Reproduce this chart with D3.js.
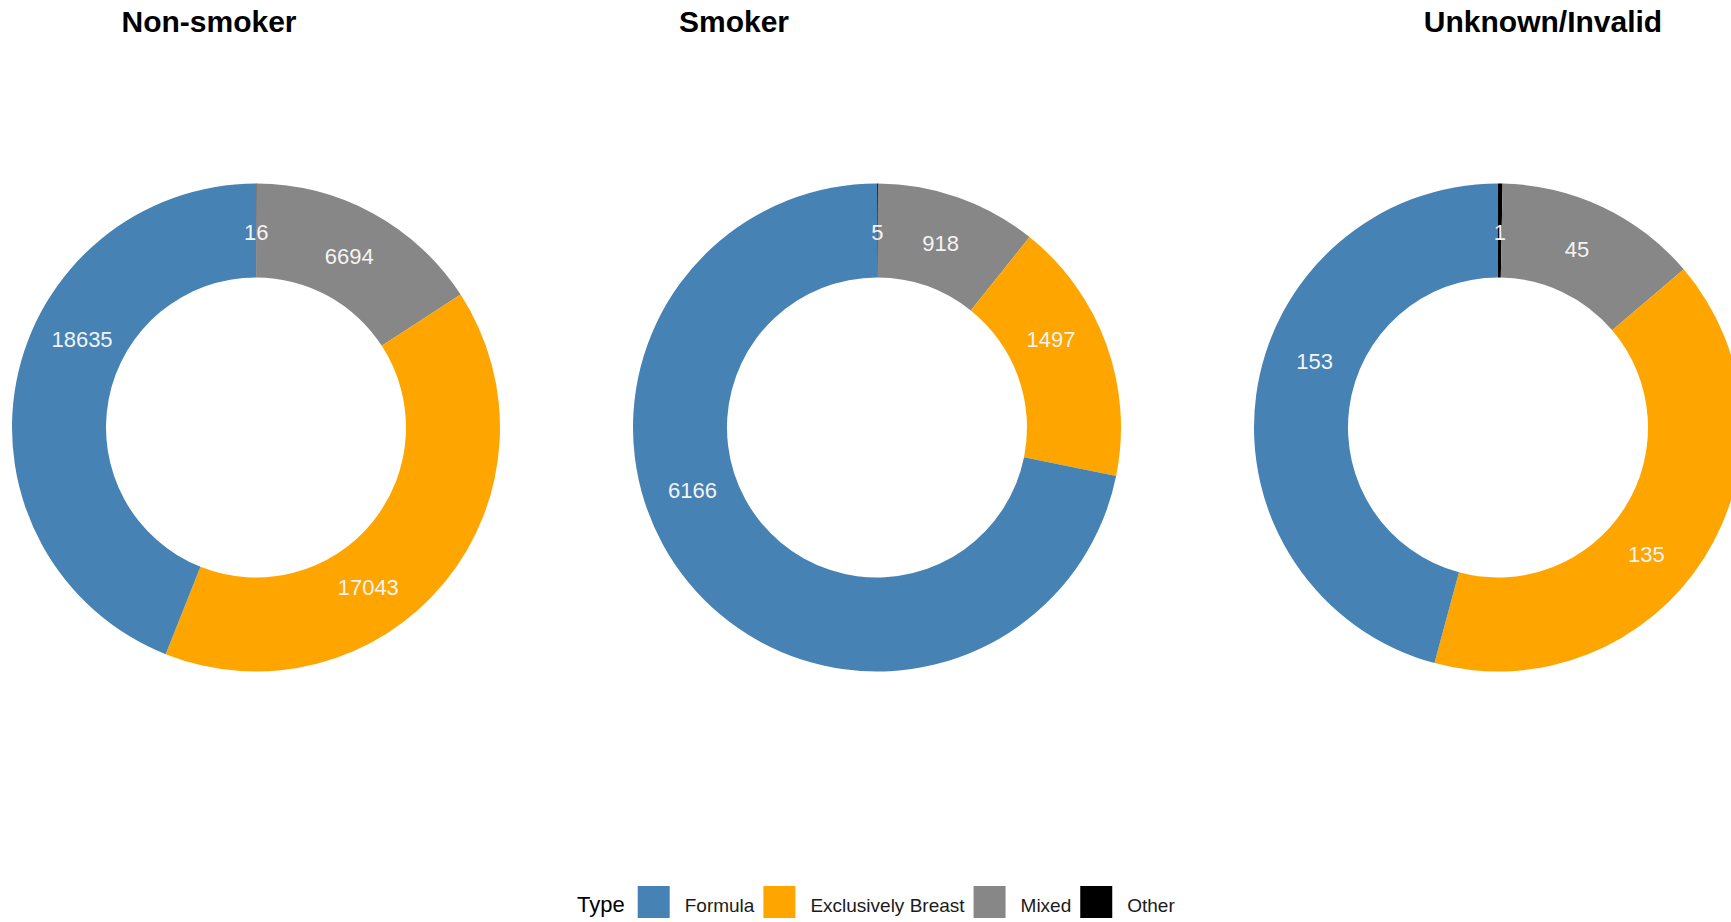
<!DOCTYPE html>
<html>
<head>
<meta charset="utf-8">
<script src="https://cdn.jsdelivr.net/npm/d3@7"></script>
<style>
  html, body { margin: 0; padding: 0; background: #ffffff; }
  svg { display: block; font-family: "Liberation Sans", Arial, sans-serif; }
</style>
</head>
<body>
<svg id="chart" width="1731" height="922"></svg>
<script>
// Feeding type counts by maternal smoking status
const groups = ["Non-smoker", "Smoker", "Unknown/Invalid"];
const types = ["Formula", "Exclusively Breast", "Mixed", "Other"];
const formula = [18635, 6166, 153];
const breast = [17043, 1497, 135];
const mixed = [6694, 918, 45];
const other = [16, 5, 1];

// Layout
const cy = 427.5, outerR = 244, innerR = 150, labelR = 195;
const titleX = [209, 734, 1543];
// Where each value label sits along its slice (0 = slice start, 1 = slice end),
// per group, in slice order: Other, Mixed, Exclusively Breast, Formula
const labelAlong = [
  [0.5, 0.5, 0.607, 0.601],
  [0.5, 0.49, 0.39, 0.579],
  [0.5, 0.47, 0.556, 0.575]
];

const colour = d3.scaleOrdinal()
  .domain(types)
  .range(["#4682B4", "#FFA500", "#878787", "#000000"]);

const cx = d3.scalePoint().domain(groups).range([256, 1498]);

const svg = d3.select("#chart");

// Slices run clockwise from 12 o'clock: Other, Mixed, Exclusively Breast, Formula
const stackOrder = ["Other", "Mixed", "Exclusively Breast", "Formula"];
const valueOf = {
  "Formula": formula,
  "Exclusively Breast": breast,
  "Mixed": mixed,
  "Other": other
};

const pie = d3.pie().sort(null).value(d => d.value);
const arc = d3.arc().innerRadius(innerR).outerRadius(outerR);

groups.forEach((g, i) => {
  const rows = stackOrder.map(t => ({ type: t, value: valueOf[t][i] }));
  const arcs = pie(rows);
  const gEl = svg.append("g").attr("transform", `translate(${cx(g)},${cy})`);

  gEl.selectAll("path.slice")
    .data(arcs)
    .join("path")
    .attr("class", "slice")
    .attr("d", arc)
    .attr("fill", d => colour(d.data.type));

  gEl.selectAll("text.val")
    .data(arcs)
    .join("text")
    .attr("class", "val")
    .attr("transform", (d, j) => {
      const a = d.startAngle + (d.endAngle - d.startAngle) * labelAlong[i][j];
      return `translate(${labelR * Math.sin(a)},${-labelR * Math.cos(a)})`;
    })
    .attr("text-anchor", "middle")
    .attr("dy", "0.35em")
    .attr("fill", "#f4f4f4")
    .attr("font-size", "22px")
    .text(d => d.data.value);

  svg.append("text")
    .attr("x", titleX[i])
    .attr("y", 32)
    .attr("text-anchor", "middle")
    .attr("font-weight", "bold")
    .attr("font-size", "30px")
    .attr("fill", "#000")
    .text(g);
});

// Legend along the bottom
const legend = svg.append("g");
let x = 577;
const keyTop = 886, keySize = 32;
const legTitle = legend.append("text")
  .attr("x", x).attr("y", 911.5)
  .attr("font-size", "22px").attr("fill", "#000")
  .text("Type");
x += legTitle.node().getComputedTextLength() + 13;

types.forEach(t => {
  legend.append("rect")
    .attr("x", x).attr("y", keyTop)
    .attr("width", keySize).attr("height", keySize)
    .attr("fill", colour(t));
  x += keySize + 15;
  const lab = legend.append("text")
    .attr("x", x).attr("y", 911.5)
    .attr("font-size", "19px").attr("fill", "#1a1a1a")
    .text(t);
  x += lab.node().getComputedTextLength() + 9;
});
</script>
</body>
</html>
